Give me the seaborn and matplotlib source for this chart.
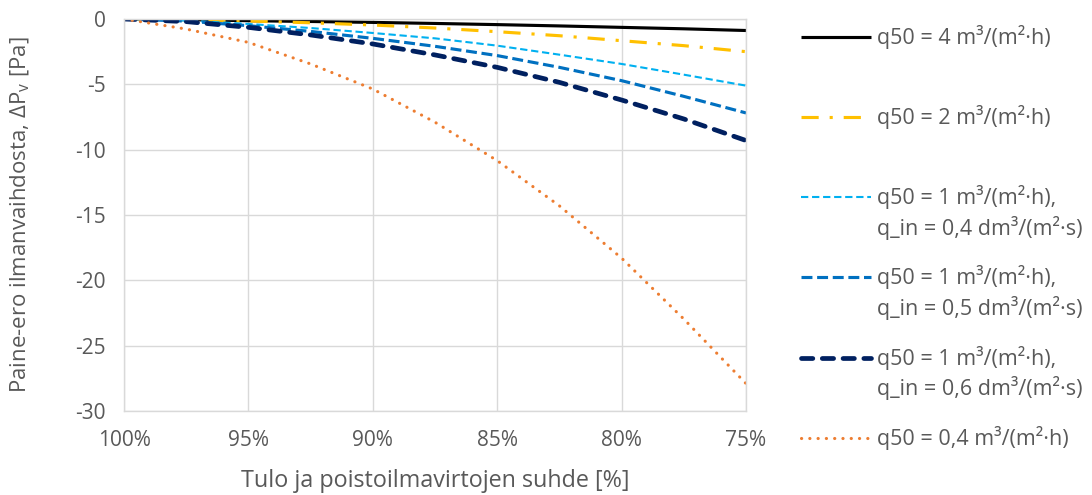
import numpy as np
import pandas as pd
import matplotlib
matplotlib.use("Agg")
import matplotlib.pyplot as plt
from matplotlib.lines import Line2D
import seaborn as sns

# ---- data ----
ratio = [100, 97.5, 95, 92.5, 90, 87.5, 85, 82.5, 80, 77.5, 75]
dp_q50_4 = [0, -0.05, -0.13, -0.19, -0.26, -0.34, -0.43, -0.53, -0.64, -0.75, -0.88]
dp_q50_2 = [0, -0.05, -0.15, -0.29, -0.46, -0.69, -0.97, -1.28, -1.66, -2.04, -2.5]
dp_q50_1_in04 = [0, -0.12, -0.38, -0.69, -1.07, -1.48, -2.04, -2.73, -3.44, -4.26, -5.1]
dp_q50_1_in05 = [0, -0.16, -0.51, -0.95, -1.48, -2.09, -2.8, -3.7, -4.72, -5.92, -7.19]
dp_q50_1_in06 = [0, -0.2, -0.64, -1.22, -1.91, -2.75, -3.7, -4.85, -6.2, -7.65, -9.3]
dp_q50_04 = [0, -0.77, -1.79, -3.44, -5.36, -7.9, -10.84, -14.3, -18.3, -22.96, -27.9]

labels = [
    "q50 = 4 m³/(m²·h)",
    "q50 = 2 m³/(m²·h)",
    "q50 = 1 m³/(m²·h),\nq_in = 0,4 dm³/(m²·s)",
    "q50 = 1 m³/(m²·h),\nq_in = 0,5 dm³/(m²·s)",
    "q50 = 1 m³/(m²·h),\nq_in = 0,6 dm³/(m²·s)",
    "q50 = 0,4 m³/(m²·h)",
]
series = [dp_q50_4, dp_q50_2, dp_q50_1_in04, dp_q50_1_in05, dp_q50_1_in06, dp_q50_04]
xticks = [100, 95, 90, 85, 80, 75]
yticks = [0, -5, -10, -15, -20, -25, -30]

# ---- styles ----
styles = [
    dict(color="#000000", lw=2.25, dashes=None, cap="butt"),
    dict(color="#FFC000", lw=2.25, dashes=(5.5, 3.5, 1, 3.5), cap="butt"),
    dict(color="#00B0F0", lw=1.5, dashes=(3.5, 1.8), cap="butt"),
    dict(color="#0070C0", lw=2.25, dashes=(3.5, 1.5), cap="butt"),
    dict(color="#002060", lw=3.4, dashes=(2.4, 2.0), cap="round"),
    dict(color="#ED7D31", lw=2.25, dashes=(0.05, 2.6), cap="round"),
]

sns.set_theme(style="white")
plt.rcParams["font.family"] = ["Open Sans", "DejaVu Sans"]
plt.rcParams["mathtext.default"] = "regular"
TXT = "#595959"
GRID = "#D9D9D9"

W, H = 1092, 495
fig = plt.figure(figsize=(W / 100, H / 100), dpi=100)
L, R, T, B = 124, 746, 19, 411
ax = fig.add_axes([L / W, 1 - B / H, (R - L) / W, (B - T) / H])

def style_line(line, st):
    line.set_color(st["color"])
    line.set_linewidth(st["lw"])
    if st["dashes"] is not None:
        line.set_dashes(st["dashes"])
    line.set_dash_capstyle(st["cap"])
    line.set_solid_capstyle("butt")

for i in range(len(series)):
    df = pd.DataFrame({"x": ratio, "y": series[i]})
    sns.lineplot(data=df, x="x", y="y", ax=ax, sort=False, legend=False)
    style_line(ax.lines[-1], styles[i])

ax.set_xlim(100, 75)
ax.set_ylim(-30, 0)
ax.set_xticks(xticks)
ax.set_xticklabels([f"{v}%" for v in xticks])
ax.set_yticks(yticks)
ax.set_yticklabels([f"{v}" for v in yticks])
ax.grid(True, color=GRID, lw=1.0)
ax.set_axisbelow(True)
for s in ax.spines.values():
    s.set_color(GRID)
    s.set_linewidth(1.0)
ax.tick_params(axis="both", length=0, colors=TXT, labelsize=15)
ax.tick_params(axis="y", pad=13)
ax.tick_params(axis="x", pad=14)

ax.set_xlabel("Tulo ja poistoilmavirtojen suhde [%]", color=TXT, fontsize=16.8, va="center")
ax.xaxis.set_label_coords(0.5, (B - 481) / (B - T))
ax.set_ylabel(r"Paine-ero ilmanvaihdosta, ΔP$_{v}$ [Pa]", color=TXT, fontsize=16, va="center")
ax.yaxis.set_label_coords((20 - L) / (R - L), 0.5)

# ---- legend (drawn manually to mimic spreadsheet layout) ----
first_line_y = [37, 117, 197, 277, 358, 438]
line_gap = 30.5
hx0, hx1, tx = 801, 871, 877
for i in range(6):
    st = styles[i]
    y = 1 - first_line_y[i] / H
    ln = Line2D([hx0 / W, hx1 / W], [y, y], transform=fig.transFigure)
    style_line(ln, st)
    fig.add_artist(ln)
    for k, part in enumerate(labels[i].split("\n")):
        fig.text(tx / W, 1 - (first_line_y[i] + k * line_gap) / H, part,
                 color=TXT, fontsize=15.5, ha="left", va="center")

fig.savefig("out.png", dpi=100)
